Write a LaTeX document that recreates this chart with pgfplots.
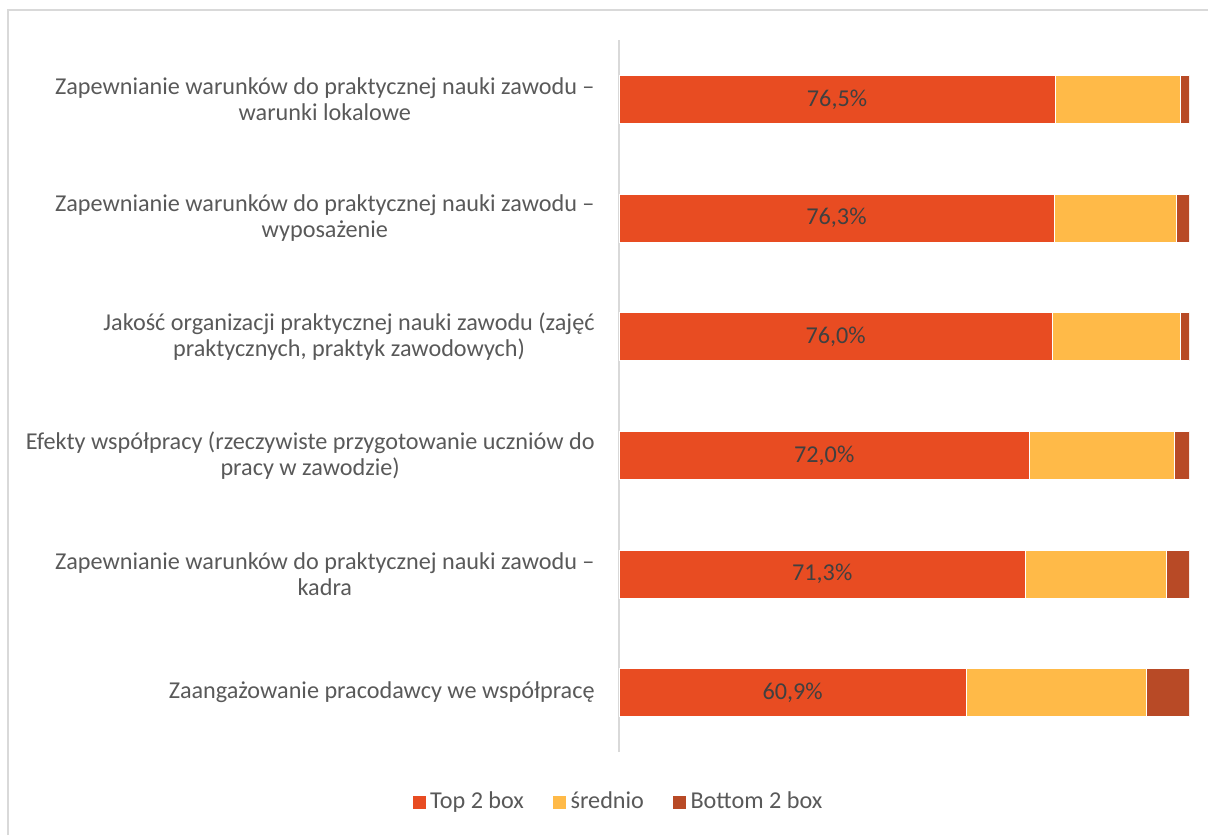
\documentclass[border=0pt]{standalone}
\usepackage{fontspec}
\setmainfont{Carlito}
\usepackage{pgfplots}
\pgfplotsset{compat=1.18}

\definecolor{topbox}{HTML}{E84C22}
\definecolor{sred}{HTML}{FFBA48}
\definecolor{botbox}{HTML}{B84A26}
\definecolor{txt}{HTML}{595959}
\definecolor{lbl}{HTML}{404040}
\definecolor{frame}{HTML}{D9D9D9}

\newcommand{\lblfont}{\fontsize{12.1}{13}\selectfont}

\begin{document}
\begin{tikzpicture}
\useasboundingbox (0,0) rectangle (604pt,417.5pt);
\draw[frame, line width=1pt] (4pt,0) -- (4pt,412.5pt) -- (604pt,412.5pt);
\begin{axis}[
  at={(309.5pt,41.5pt)}, anchor=south west,
  scale only axis, width=285pt, height=356pt,
  xbar stacked, bar width=24pt,
  xmin=0, xmax=100, ymin=0.5, ymax=6.5,
  axis x line=none, axis y line*=left,
  y axis line style={frame, line width=0.8pt, -},
  ytick={1,2,3,4,5,6}, ytick style={draw=none},
  yticklabels={
    {Zaangażowanie pracodawcy we współpracę},
    {Zapewnianie warunków do praktycznej nauki zawodu –\\kadra},
    {Efekty współpracy (rzeczywiste przygotowanie uczniów do\\pracy w zawodzie)},
    {Jakość organizacji praktycznej nauki zawodu (zajęć\\praktycznych, praktyk zawodowych)},
    {Zapewnianie warunków do praktycznej nauki zawodu –\\wyposażenie},
    {Zapewnianie warunków do praktycznej nauki zawodu –\\warunki lokalowe}},
  yticklabel style={align=center, font=\lblfont, text=txt, inner sep=0pt, xshift=-12pt},
  legend style={at={(0,-0.0702)}, anchor=center, draw=none, legend columns=-1,
    font=\lblfont, text=txt,
    /tikz/every even column/.append style={column sep=12pt}},
  legend image code/.code={\fill[#1] (0pt,-3.5pt) rectangle (7pt,3.5pt);},
  legend cell align=left,
]
\addplot[fill=topbox, draw=white, line width=0.3pt] coordinates {(60.9,1) (71.3,2) (72.0,3) (76.0,4) (76.3,5) (76.5,6)};
\addplot[fill=sred, draw=white, line width=0.3pt] coordinates {(31.6,1) (24.8,2) (25.4,3) (22.4,4) (21.4,5) (21.9,6)};
\addplot[fill=botbox, draw=white, line width=0.3pt] coordinates {(7.5,1) (3.9,2) (2.6,3) (1.6,4) (2.3,5) (1.6,6)};
\legend{Top 2 box, średnio, Bottom 2 box}
\coordinate (l1) at (axis cs:30.45,1);
\coordinate (l2) at (axis cs:35.65,2);
\coordinate (l3) at (axis cs:36.0,3);
\coordinate (l4) at (axis cs:38.0,4);
\coordinate (l5) at (axis cs:38.15,5);
\coordinate (l6) at (axis cs:38.25,6);
\end{axis}
\begin{scope}[every node/.style={text=lbl, font=\lblfont}]
\node at (l1) {60,9\%};
\node at (l2) {71,3\%};
\node at (l3) {72,0\%};
\node at (l4) {76,0\%};
\node at (l5) {76,3\%};
\node at (l6) {76,5\%};
\end{scope}
\end{tikzpicture}
\end{document}
